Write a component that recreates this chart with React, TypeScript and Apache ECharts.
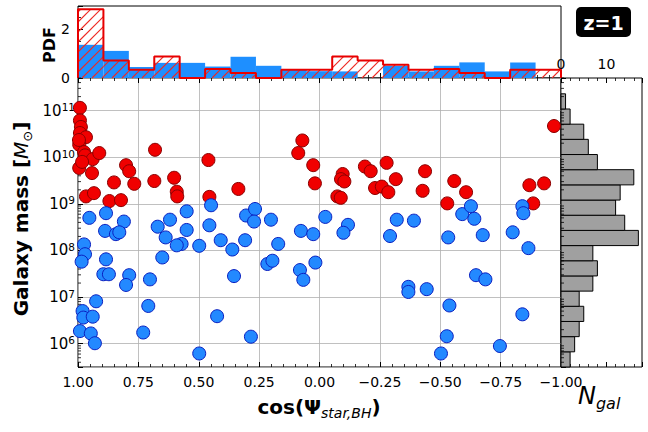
import React, { useEffect, useRef } from 'react';
import * as echarts from 'echarts';

// ---- scatter data: cos(Psi_star,BH) and log10(Galaxy mass / Msun)
const RED_COS = [0.992, 0.992, 0.988, 0.992, 0.967, 0.995, 0.975, 0.971, 0.939, 0.912, 0.995, 0.942, 0.967, 0.934, 0.870, 0.822, 0.851, 0.801, 0.788, 0.767, 0.681, 0.684, 0.602, 0.591, 0.589, 0.460, 0.456, 0.336, 0.071, 0.088, 0.026, 0.019, -0.096, -0.089, -0.103, -0.074, -0.088, -0.188, -0.212, -0.230, -0.258, -0.278, -0.316, -0.285, -0.437, -0.427, -0.558, -0.607, -0.529, -0.869, -0.930, -0.885, -0.971, 0.996, 0.983];
const RED_LOGM = [11.06, 10.79, 10.65, 10.52, 10.43, 10.27, 10.11, 10.04, 9.96, 10.09, 9.77, 9.66, 9.16, 9.23, 9.06, 9.08, 9.46, 9.83, 9.70, 9.43, 10.16, 9.49, 9.56, 9.26, 9.16, 9.94, 9.15, 9.32, 10.36, 10.09, 9.83, 9.44, 9.64, 9.53, 9.48, 9.16, 9.13, 9.80, 9.70, 9.34, 9.37, 9.88, 9.53, 9.25, 9.70, 9.28, 9.49, 9.25, 9.01, 9.40, 9.44, 9.01, 10.67, 10.37, 9.90];

const BLUE_COS = [0.953, 0.884, 0.810, 0.670, 0.619, 0.550, 0.449, 0.456, 0.888, 0.843, 0.829, 0.550, 0.409, 0.361, 0.498, 0.571, 0.591, 0.637, 0.975, 0.971, 0.985, 0.884, 0.895, 0.872, 0.788, 0.801, 0.651, 0.702, 0.354, 0.925, 0.981, 0.978, 0.939, 0.709, 0.424, 0.992, 0.947, 0.930, 0.730, 0.498, 0.304, 0.267, 0.271, 0.201, 0.077, -0.024, -0.118, -0.320, 0.308, 0.171, 0.216, 0.195, 0.026, 0.081, 0.067, 0.017, -0.099, -0.292, 0.284, -0.391, -0.591, -0.627, -0.641, -0.840, -0.844, -0.533, -0.676, -0.800, -0.865, -0.648, -0.687, -0.368, -0.368, -0.444, -0.538, -0.840, -0.527, -0.503, -0.747];
const BLUE_LOGM = [8.70, 8.80, 8.62, 8.51, 8.66, 8.84, 8.97, 8.54, 8.42, 8.35, 8.39, 8.44, 8.22, 8.02, 8.10, 8.14, 8.11, 8.28, 8.13, 7.92, 7.76, 7.81, 7.49, 7.49, 7.47, 7.26, 7.85, 7.38, 7.45, 6.91, 6.70, 6.56, 6.58, 6.81, 6.59, 6.27, 6.22, 6.01, 6.24, 5.79, 8.75, 8.89, 8.62, 8.66, 8.42, 8.72, 8.55, 8.66, 8.22, 8.14, 7.71, 7.78, 8.35, 7.58, 7.37, 7.74, 8.38, 8.31, 6.15, 8.64, 8.78, 8.95, 8.68, 8.95, 8.80, 8.28, 8.33, 8.39, 8.05, 7.47, 7.38, 7.22, 7.11, 7.17, 6.82, 6.63, 6.16, 5.79, 5.95];

// ---- top histogram (PDF), 19 bins from cos = 1 to cos = -1
const PDF_BLUE = [1.36, 1.11, 0.45, 0.62, 0.62, 0.47, 0.87, 0.50, 0.36, 0.28, 0.27, 0, 0.50, 0.27, 0.50, 0.64, 0.27, 0.64, 0];
const PDF_RED = [2.82, 0.72, 0.34, 0.88, 0, 0.37, 0.20, 0, 0.34, 0.34, 0.88, 0.72, 0.54, 0.34, 0.37, 0.20, 0, 0.34, 0.34];

// ---- right histogram (N_gal), bins in log10 mass from low to high
const NGAL_COUNTS = [2, 3, 4, 5, 4, 7, 8, 7, 17, 14, 12, 13, 16, 8, 6, 5, 2, 1];
const NGAL_BIN_START = 5.5;
const NGAL_BIN_WIDTH = 0.3256;

const Y_MIN = 5.5;
const Y_MAX = 11.7;

const FONT = 'DejaVu Sans';
const HATCH_RED = '#ee2a22';

export default function App() {
  const ref = useRef<HTMLDivElement>(null);

  useEffect(() => {
    if (!ref.current) return;
    const chart = echarts.init(ref.current, null, { renderer: 'svg' });

    const nb = PDF_BLUE.length;
    const bw = 2 / nb;
    const blueBins = PDF_BLUE.map((h, i) => [1 - i * bw, 1 - (i + 1) * bw, h]);
    const redBins = PDF_RED.map((h, i) => [1 - i * bw, 1 - (i + 1) * bw, h]);
    const redStep: number[][] = [[1, 0]];
    PDF_RED.forEach((h, i) => {
      redStep.push([1 - i * bw, h]);
      redStep.push([1 - (i + 1) * bw, h]);
    });
    redStep.push([-1, 0]);

    const ngalBins = NGAL_COUNTS.map((c, i) => [
      c,
      NGAL_BIN_START + i * NGAL_BIN_WIDTH,
      NGAL_BIN_START + (i + 1) * NGAL_BIN_WIDTH,
    ]);

    // minor log tick positions (2..9 x 10^n)
    const minorLog: number[] = [];
    for (let n = 5; n <= 11; n++) {
      for (let k = 2; k <= 9; k++) {
        const v = n + Math.log10(k);
        if (v > Y_MIN && v < Y_MAX) minorLog.push(v);
      }
    }

    const tick = { show: true, inside: true, length: 5, lineStyle: { color: '#000', width: 1 } };
    const minor = (n: number) => ({ show: true, splitNumber: n, length: 3, lineStyle: { color: '#000', width: 0.8 } });
    const noLine = { show: false, onZero: false };
    const HATCH = 10;

    const xFmt = (v: number) => v.toFixed(2).replace('-', '\u2212');

    const option: any = {
      animation: false,
      textStyle: { fontFamily: FONT },
      grid: [
        { left: 78, top: 78, width: 483, height: 289, show: true, borderColor: '#000', borderWidth: 1, backgroundColor: 'rgba(0,0,0,0)' },
        { left: 78, top: 6, width: 483, height: 72, show: true, borderColor: '#000', borderWidth: 1, backgroundColor: 'rgba(0,0,0,0)' },
        { left: 561, top: 78, width: 81, height: 289, show: true, borderColor: '#000', borderWidth: 1, backgroundColor: 'rgba(0,0,0,0)' },
      ],
      xAxis: [
        {
          gridIndex: 0, type: 'value', min: -1, max: 1, interval: 0.25, inverse: true, position: 'bottom',
          axisLine: noLine, axisTick: tick, minorTick: minor(5),
          splitLine: { show: true, lineStyle: { color: '#b0b0b0', width: 0.8 } },
          axisLabel: { fontSize: 14, color: '#000', margin: 8, formatter: xFmt, fontFamily: FONT },
        },
        {
          gridIndex: 0, type: 'value', min: -1, max: 1, interval: 0.25, inverse: true, position: 'top',
          axisLine: noLine, axisTick: tick, minorTick: minor(5), splitLine: { show: false }, axisLabel: { show: false },
        },
        {
          gridIndex: 1, type: 'value', min: -1, max: 1, interval: 0.25, inverse: true, position: 'bottom',
          axisLine: noLine, axisTick: tick, minorTick: minor(5), splitLine: { show: false }, axisLabel: { show: false },
        },
        {
          gridIndex: 2, type: 'value', min: 0, max: 17.8, interval: 10, position: 'top',
          axisLine: noLine, axisTick: tick, minorTick: minor(5), splitLine: { show: false },
          axisLabel: {
            fontSize: 14, color: '#000', margin: 7, fontFamily: FONT,
            formatter: (v: number) => (Math.abs(v % 10) < 1e-6 ? String(v) : ''),
          },
        },
        {
          gridIndex: 2, type: 'value', min: 0, max: 17.8, interval: 10, position: 'bottom',
          axisLine: noLine, axisTick: tick, minorTick: minor(5), splitLine: { show: false }, axisLabel: { show: false },
        },
      ],
      yAxis: [
        {
          gridIndex: 0, type: 'value', min: Y_MIN, max: Y_MAX, splitNumber: 6, position: 'left',
          axisLine: noLine, axisTick: tick,
          splitLine: { show: true, lineStyle: { color: '#b0b0b0', width: 0.8 } },
          axisLabel: {
            margin: 3, color: '#000',
            formatter: (v: number) => {
              if (Math.abs(v - Math.round(v)) > 1e-6) return '';
              return '{b|10}{s|' + String(Math.round(v)) + '}';
            },
            rich: {
              b: { fontSize: 15, lineHeight: 18, fontFamily: FONT, color: '#000' },
              s: { fontSize: 10.5, lineHeight: 10, verticalAlign: 'top', fontFamily: FONT, color: '#000' },
            },
          },
        },
        {
          gridIndex: 1, type: 'value', min: 0, max: 2.95, interval: 2, position: 'left',
          axisLine: noLine, axisTick: tick, minorTick: minor(4), splitLine: { show: false },
          axisLabel: {
            fontSize: 14, color: '#000', margin: 8, fontFamily: FONT,
            formatter: (v: number) => (Math.abs(v - Math.round(v)) < 1e-6 ? String(Math.round(v)) : ''),
          },
        },
        {
          gridIndex: 2, type: 'value', min: Y_MIN, max: Y_MAX, splitNumber: 6, position: 'left',
          axisLine: noLine, axisTick: tick, splitLine: { show: false }, axisLabel: { show: false },
        },
      ],
      series: [
        // top histogram: blue filled bins
        {
          type: 'custom', xAxisIndex: 2, yAxisIndex: 1, data: blueBins, encode: { x: [0, 1], y: 2 }, z: 2,
          itemStyle: { color: '#1e8fff' },
          renderItem: (params: any, api: any) => {
            const a = api.coord([api.value(0), 0]);
            const b = api.coord([api.value(1), api.value(2)]);
            return {
              type: 'rect',
              shape: { x: Math.min(a[0], b[0]), y: b[1], width: Math.abs(b[0] - a[0]), height: a[1] - b[1] },
              style: { fill: '#1e8fff' },
            };
          },
        },
        // top histogram: red hatched bins (hatch drawn as one polyline set)
        {
          type: 'custom', xAxisIndex: 2, yAxisIndex: 1, data: redBins, encode: { x: [0, 1], y: 2 }, z: 3,
          itemStyle: { color: HATCH_RED, borderColor: HATCH_RED },
          renderItem: (params: any, api: any) => {
            const h = api.value(2);
            const children: any[] = [];
            if (h > 0) {
              const a = api.coord([api.value(0), 0]);
              const b = api.coord([api.value(1), h]);
              const x0 = Math.min(a[0], b[0]);
              const x1 = Math.max(a[0], b[0]);
              const y0 = Math.min(a[1], b[1]);
              const y1 = Math.max(a[1], b[1]);
              for (let k = Math.ceil((x0 + y0) / HATCH); k * HATCH <= x1 + y1; k++) {
                const c = k * HATCH;
                const xa = Math.max(x0, c - y1);
                const xb = Math.min(x1, c - y0);
                if (xb > xa) {
                  children.push({
                    type: 'polyline',
                    shape: { points: [[xa, c - xa], [xb, c - xb]] },
                    style: { stroke: HATCH_RED, fill: 'none', lineWidth: 1.1, opacity: 1 },
                  });
                }
              }
            }
            return { type: 'group', children };
          },
        },
        // top histogram: red step outline
        {
          type: 'line', xAxisIndex: 2, yAxisIndex: 1, data: redStep, symbol: 'none', z: 4,
          lineStyle: { color: '#e80000', width: 2 },
        },
        // right histogram
        {
          type: 'custom', xAxisIndex: 3, yAxisIndex: 2, data: ngalBins, encode: { x: 0, y: [1, 2] }, z: 2,
          itemStyle: { color: '#a0a0a0' },
          renderItem: (params: any, api: any) => {
            const a = api.coord([0, api.value(1)]);
            const b = api.coord([api.value(0), api.value(2)]);
            return {
              type: 'rect',
              shape: { x: a[0], y: b[1], width: b[0] - a[0], height: a[1] - b[1] },
              style: { fill: '#a0a0a0', stroke: '#000', lineWidth: 1 },
            };
          },
        },
        // minor log ticks on main y axis
        {
          type: 'custom', xAxisIndex: 0, yAxisIndex: 0, data: minorLog.map((m) => [1, m]), encode: { x: 0, y: 1 }, z: 5,
          itemStyle: { color: '#000' },
          renderItem: (params: any, api: any) => {
            const p = api.coord([1, api.value(1)]);
            return { type: 'line', shape: { x1: p[0], y1: p[1], x2: p[0] + 3, y2: p[1] }, style: { stroke: '#000', lineWidth: 0.8 } };
          },
        },
        // minor log ticks on right histogram y axis
        {
          type: 'custom', xAxisIndex: 3, yAxisIndex: 2, data: minorLog.map((m) => [0, m]), encode: { x: 0, y: 1 }, z: 5,
          itemStyle: { color: '#000' },
          renderItem: (params: any, api: any) => {
            const p = api.coord([0, api.value(1)]);
            return { type: 'line', shape: { x1: p[0], y1: p[1], x2: p[0] + 3, y2: p[1] }, style: { stroke: '#000', lineWidth: 0.8 } };
          },
        },
        {
          name: 'red', type: 'scatter', xAxisIndex: 0, yAxisIndex: 0, clip: false, z: 6,
          data: RED_COS.map((c, i) => [c, RED_LOGM[i]]),
          symbol: 'circle', symbolSize: 13,
          itemStyle: { color: '#f00000', borderColor: '#8a0000', borderWidth: 1, opacity: 1 },
        },
        {
          name: 'blue', type: 'scatter', xAxisIndex: 0, yAxisIndex: 0, clip: false, z: 6,
          data: BLUE_COS.map((c, i) => [c, BLUE_LOGM[i]]),
          symbol: 'circle', symbolSize: 13,
          itemStyle: { color: '#2389ff', borderColor: '#0a1fc0', borderWidth: 1, opacity: 1 },
        },
      ],
      graphic: [
        {
          type: 'rect', left: 576, top: 7, shape: { width: 55, height: 30, r: 5 }, style: { fill: '#000' }, z: 10,
        },
        {
          type: 'text', x: 603.5, y: 22.5, z: 11,
          style: { text: 'z=1', fill: '#fff', font: 'bold 19px "DejaVu Sans"', align: 'center', verticalAlign: 'middle' },
        },
        {
          type: 'text', x: 21, y: 219, rotation: Math.PI / 2, z: 10,
          style: {
            text: '{b|Galaxy mass [}{i|M}{s|\u2299}{b|]}',
            align: 'center', verticalAlign: 'middle',
            rich: {
              b: { fontSize: 20, fontWeight: 'bold', fontFamily: FONT, lineHeight: 26, fill: '#000' },
              i: { fontSize: 20, fontStyle: 'italic', fontFamily: FONT, lineHeight: 26, fill: '#000' },
              s: { fontSize: 13, fontFamily: FONT, lineHeight: 13, verticalAlign: 'bottom', fill: '#000' },
            },
          },
        },
        {
          type: 'text', x: 49, y: 45, rotation: Math.PI / 2, z: 10,
          style: { text: 'PDF', fill: '#000', font: 'bold 16px "DejaVu Sans"', align: 'center', verticalAlign: 'middle' },
        },
        {
          type: 'text', x: 319, y: 407, z: 10,
          style: {
            text: '{b|cos(\u03a8}{s|star,BH}{b|)}',
            align: 'center', verticalAlign: 'middle',
            rich: {
              b: { fontSize: 20, fontWeight: 'bold', fontFamily: FONT, lineHeight: 26, fill: '#000' },
              s: { fontSize: 14, fontStyle: 'italic', fontFamily: FONT, lineHeight: 14, verticalAlign: 'bottom', fill: '#000' },
            },
          },
        },
        {
          type: 'text', x: 578, y: 396, z: 10,
          style: {
            text: '{n|N}{s|gal}',
            align: 'left', verticalAlign: 'middle',
            rich: {
              n: { fontSize: 24, fontStyle: 'italic', fontFamily: FONT, lineHeight: 30, fill: '#000' },
              s: { fontSize: 16, fontStyle: 'italic', fontFamily: FONT, lineHeight: 16, verticalAlign: 'bottom', fill: '#000' },
            },
          },
        },
      ],
    };

    chart.setOption(option);
    return () => chart.dispose();
  }, []);

  return (
    <div
      ref={ref}
      style={{ position: 'fixed', left: 0, top: 0, width: 648, height: 432, background: '#fff' }}
    />
  );
}
